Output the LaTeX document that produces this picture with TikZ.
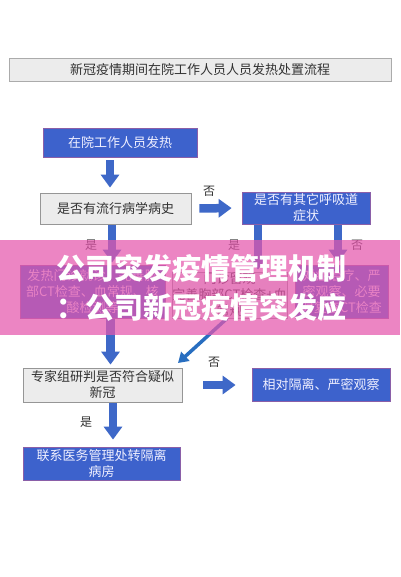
\documentclass[tikz,border=0pt]{standalone}
\usepackage{fontspec}
\newfontfamily\cjk{Noto Sans CJK SC}
\usetikzlibrary{arrows.meta,calc}
\definecolor{boxblue}{RGB}{61,98,204}
\definecolor{boxedge}{RGB}{138,95,168}
\definecolor{arrowblue}{RGB}{62,104,200}
\definecolor{diagblue}{RGB}{40,110,192}
\definecolor{grayfill}{RGB}{236,236,236}
\definecolor{grayedge}{RGB}{150,150,150}
\definecolor{txtdark}{RGB}{50,50,50}
\definecolor{bannerpink}{RGB}{229,87,173}
\begin{document}
\begin{tikzpicture}[x=1pt,y=-1pt,
  boxfont/.style={font=\cjk\fontsize{13}{16}\selectfont},
  bluebox/.style={boxfont, draw=boxedge, line width=0.8pt, fill=boxblue, text=white!94!blue, align=center, inner sep=0pt},
  graybox/.style={boxfont, draw=grayedge, line width=0.8pt, fill=grayfill, text=txtdark, align=center, inner sep=0pt},
  blockarrow/.style={draw=arrowblue, line width=8.5pt, -{Triangle[width=18pt,length=13pt]}},
  diagarrow/.style={draw=diagblue, line width=3.5pt, -{Triangle[width=12pt,length=10pt]}},
  lbl/.style={font=\cjk\fontsize{12}{12}\selectfont, text=txtdark, inner sep=0pt}
]
\useasboundingbox (0,0) rectangle (400,577);
\fill[white] (0,0) rectangle (400,577);

% title
\node[draw=grayedge!80, line width=0.8pt, fill=grayfill, text=txtdark, font=\cjk\fontsize{13}{16}\selectfont,
      minimum width=382pt, minimum height=23pt, inner sep=0pt] (title) at (200,69.5) {新冠疫情期间在院工作人员人员发热处置流程};

% boxes
\node[bluebox, minimum width=154pt, minimum height=29pt] (b1) at (120,142.5) {在院工作人员发热};
\node[graybox, minimum width=151pt, minimum height=31pt] (b2) at (115.5,208.5) {是否有流行病学病史};
\node[bluebox, minimum width=128pt, minimum height=32pt] (b3) at (306,208) {是否有其它呼吸道\\症状};

\node[bluebox, minimum width=145pt, minimum height=53pt] (bl) at (92.5,291.5) {发热门诊就诊，完善胸\\部CT检查、血常规、核\\酸检测等};
\node[graybox, minimum width=115pt, minimum height=46pt] (bm) at (229.5,295) {门诊留观\\完善胸部CT检查+血\\常规};
\node[bluebox, minimum width=93pt, minimum height=53pt] (br) at (341.5,291.5) {对症治疗、严\\密观察、必要\\时复查CT检查};

\node[graybox, minimum width=159pt, minimum height=34pt] (b4) at (102.5,385) {专家组研判是否符合疑似\\新冠};
\node[bluebox, minimum width=138pt, minimum height=33pt] (b5) at (321,384.5) {相对隔离、严密观察};
\node[bluebox, minimum width=157pt, minimum height=33pt] (b6) at (101.5,463.5) {联系医务管理处转隔离\\病房};

% arrow anchor coordinates
\coordinate (a1) at ([xshift=-10pt]b1.south);
\coordinate (a2) at ([xshift=-3.5pt]b2.south);
\coordinate (a3) at ([xshift=-48pt]b3.south);
\coordinate (a4) at ([xshift=32pt]b3.south);
\coordinate (a5) at ([xshift=18pt]bl.south);
\coordinate (a6) at ([xshift=10.5pt]b4.south);
\coordinate (d1) at ([xshift=-2.5pt]bm.south);
\coordinate (d2) at (178,363);

% arrows
\draw[blockarrow, shorten <=3pt, shorten >=5pt] (a1) -- (a1 |- b2.north);
\draw[blockarrow, shorten <=8pt, shorten >=10pt] (b2.east) -- (b3.west);
\draw[blockarrow, shorten <=1pt, shorten >=2pt] (a2) -- (a2 |- bl.north);
\draw[blockarrow, shorten <=1pt, shorten >=2pt] (a3) -- (a3 |- bm.north);
\draw[blockarrow, shorten <=1pt, shorten >=2pt] (a4) -- (a4 |- br.north);
\draw[blockarrow, shorten <=1pt, shorten >=3pt] (a5) -- (a5 |- b4.north);
\draw[diagarrow] (d1) -- (d2);
\draw[blockarrow, shorten <=21pt, shorten >=16pt] (b4.east) -- (b4.east -| b5.west);
\draw[blockarrow, shorten <=1pt, shorten >=7pt] (a6) -- (a6 |- b6.north);

% labels
\node[lbl] (l1) at (209,191) {否};
\node[lbl] (l2) at (91,245) {是};
\node[lbl] (l3) at (234,245) {是};
\node[lbl] (l4) at (357,245) {否};
\node[lbl] (l5) at (214,362) {否};
\node[lbl] (l6) at (86,422) {是};

% overlay banner
\node[fill=bannerpink, fill opacity=0.72, minimum width=400pt, minimum height=95pt, inner sep=0pt] (banner) at (200,287.5) {};
\node[font=\cjk\bfseries\fontsize{29}{39}\selectfont, text=white, align=center, inner sep=0pt] (bannertext) at (201,287.5)
  {公司突发疫情管理机制\\：公司新冠疫情突发应};
\end{tikzpicture}
\end{document}
